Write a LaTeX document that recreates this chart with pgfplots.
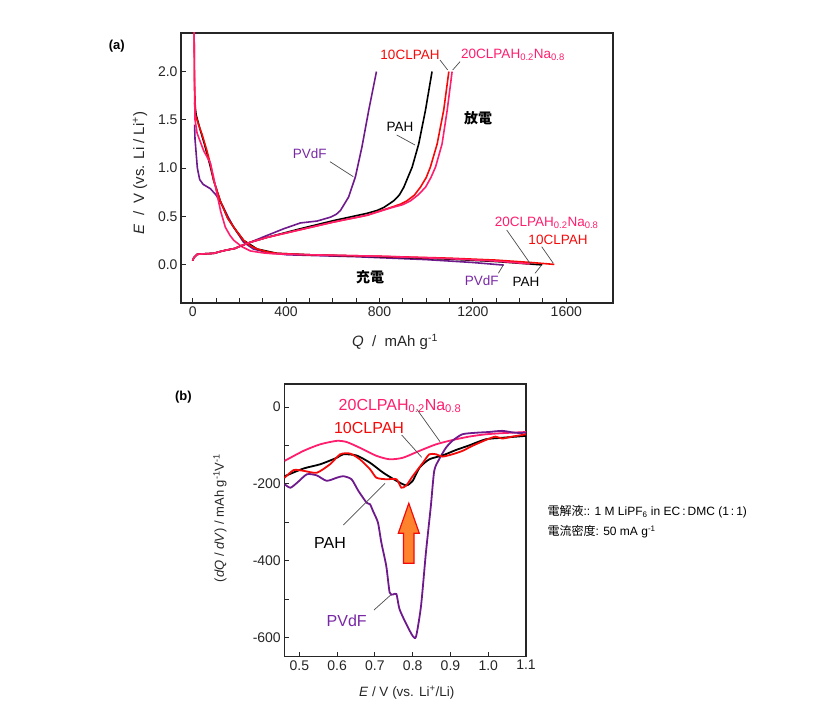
\documentclass[border=0pt]{standalone}
\usepackage{pgfplots}
\pgfplotsset{compat=1.18}
\usepackage{fontspec}
\setmainfont{Liberation Sans}
\newfontfamily\jp{Noto Sans CJK JP}
\definecolor{cpv}{RGB}{110,25,140}
\definecolor{cpvt}{RGB}{120,40,165}
\definecolor{cred}{RGB}{245,10,10}
\definecolor{cpink}{RGB}{255,30,110}
\definecolor{corange}{RGB}{255,130,45}
\begin{document}
\begin{tikzpicture}
\path[use as bounding box] (0pt,0pt) rectangle (813pt,-714pt);
\pgfplotsset{
  myax/.style={
    scale only axis,
    axis line style={line width=1.2pt, black!85},
    tick align=inside, tick pos=left,
    major tick length=5pt, minor tick length=5pt,
    every tick/.style={black!85, line width=1pt},
    /pgf/number format/assume math mode=true,
    /pgf/number format/1000 sep={},
    ticklabel style={font=\fontsize{14}{16}\selectfont, text=black!85},
  }
}
% ---------------- panel (a) ----------------
\begin{axis}[myax, at={(181pt,-303pt)}, anchor=south west,
  width=432pt, height=270pt,
  xmin=-50, xmax=1800, ymin=-0.4, ymax=2.4,
  xtick={0,400,800,1200,1600}, minor x tick num=3,
  ytick={0,0.5,1,1.5,2},
  yticklabel style={/pgf/number format/.cd, fixed, fixed zerofill, precision=1},
  every axis plot/.append style={line width=1.6pt},
]
% lithiation
\addplot[cpv] coordinates {(8,1.45)(10,1.3)(15,1.15)(20,1.0)(30,0.88)(45,0.83)(76,0.785)(100,0.72)(130,0.6)(150,0.5)(176,0.385)(218,0.23)(260,0.16)(318,0.125)(404,0.10)(700,0.08)(1000,0.05)(1200,0.02)(1332,-0.007)};
\addplot[black] coordinates {(8,1.68)(15,1.55)(33,1.39)(50,1.25)(61,1.15)(75,1.02)(90,0.87)(118,0.66)(150,0.48)(176,0.385)(218,0.25)(276,0.16)(361,0.115)(500,0.10)(800,0.08)(1100,0.055)(1300,0.03)(1497,-0.005)};
\addplot[cred] coordinates {(6,2.45)(8,1.9)(12,1.55)(25,1.45)(40,1.35)(61,1.18)(75,1.05)(90,0.87)(118,0.66)(150,0.48)(176,0.385)(218,0.25)(250,0.19)(276,0.16)(320,0.13)(361,0.115)(500,0.10)(800,0.085)(1100,0.065)(1300,0.045)(1450,0.02)(1549,0.0)};
\addplot[cpink] coordinates {(6,2.45)(8,1.8)(10,1.5)(19,1.36)(47,1.18)(76,1.05)(90,0.9)(104,0.73)(120,0.55)(140,0.385)(160,0.3)(176,0.25)(210,0.185)(247,0.14)(300,0.12)(347,0.11)(500,0.10)(800,0.085)(1100,0.06)(1300,0.035)(1446,0.005)};
% delithiation
\addplot[cpv] coordinates {(0,0.04)(5,0.07)(19,0.105)(50,0.11)(90,0.115)(120,0.135)(147,0.15)(180,0.165)(204,0.19)(247,0.23)(318,0.30)(390,0.37)(461,0.43)(533,0.45)(590,0.49)(615,0.52)(633,0.56)(668,0.70)(697,0.91)(725,1.22)(754,1.60)(787,2.0)};
\addplot[black] coordinates {(0,0.04)(5,0.07)(19,0.105)(50,0.11)(90,0.115)(120,0.135)(147,0.15)(180,0.165)(204,0.19)(247,0.23)(318,0.28)(461,0.37)(604,0.455)(747,0.53)(790,0.56)(818,0.59)(861,0.66)(885,0.72)(904,0.80)(940,1.01)(968,1.25)(997,1.60)(1025,2.0)};
\addplot[cred] coordinates {(0,0.04)(5,0.07)(19,0.105)(50,0.11)(90,0.115)(120,0.135)(147,0.15)(180,0.165)(204,0.19)(247,0.23)(318,0.28)(461,0.36)(604,0.44)(747,0.51)(847,0.59)(890,0.625)(918,0.66)(950,0.72)(975,0.80)(1000,0.90)(1018,1.01)(1047,1.25)(1075,1.60)(1097,2.0)};
\addplot[cpink] coordinates {(0,0.04)(5,0.07)(19,0.105)(50,0.11)(90,0.115)(120,0.135)(147,0.15)(180,0.165)(204,0.19)(247,0.23)(318,0.28)(461,0.36)(604,0.44)(747,0.51)(847,0.585)(900,0.62)(933,0.66)(965,0.72)(997,0.80)(1020,0.90)(1040,1.01)(1068,1.25)(1090,1.60)(1111,2.0)};
\end{axis}
% ---------------- panel (b) ----------------
\begin{axis}[myax, at={(284.3pt,-656.7pt)}, anchor=south west,
  width=241.7pt, height=272.7pt,
  xmin=0.46, xmax=1.1, ymin=-650, ymax=60,
  xtick={0.5,0.6,0.7,0.8,0.9,1.0,1.1},
  xticklabels={0.5,0.6,0.7,0.8,0.9,1.0,1.1},
  ytick={-600,-400,-200,0},
  minor ytick={-500,-300,-100},
  every axis plot/.append style={line width=1.8pt, smooth, tension=0.4},
]
\addplot[cpink] coordinates {(0.461,-140)(0.511,-114)(0.555,-97)(0.599,-88)(0.625,-91)(0.660,-106)(0.704,-127)(0.739,-136)(0.774,-132)(0.818,-114)(0.862,-97)(0.905,-86)(0.949,-77)(0.993,-71)(1.037,-68)(1.1,-65)};
\addplot[cpv] coordinates {(0.461,-201)(0.476,-210)(0.494,-197)(0.520,-175)(0.546,-178)(0.572,-192)(0.599,-184)(0.616,-180)(0.638,-188)(0.656,-218)(0.678,-249)(0.687,-253)(0.695,-271)(0.708,-301)(0.717,-353)(0.730,-414)(0.739,-483)(0.748,-488)(0.757,-487)(0.765,-526)(0.783,-565)(0.800,-596)(0.809,-597)(0.822,-518)(0.835,-379)(0.848,-258)(0.857,-166)(0.870,-136)(0.888,-106)(0.905,-88)(0.931,-71)(0.966,-67)(1.001,-65)(1.037,-62)(1.072,-67)(1.1,-67)};
\addplot[black] coordinates {(0.461,-180)(0.511,-160)(0.555,-149)(0.599,-132)(0.616,-123)(0.651,-126)(0.687,-145)(0.722,-171)(0.757,-192)(0.783,-204)(0.800,-192)(0.818,-158)(0.844,-136)(0.879,-126)(0.914,-112)(0.949,-100)(0.993,-84)(1.037,-80)(1.1,-75)};
\addplot[cred] coordinates {(0.461,-184)(0.485,-164)(0.511,-166)(0.546,-171)(0.581,-149)(0.608,-123)(0.634,-121)(0.660,-136)(0.687,-162)(0.704,-184)(0.730,-188)(0.757,-188)(0.770,-210)(0.783,-204)(0.800,-180)(0.827,-145)(0.844,-123)(0.862,-123)(0.879,-129)(0.905,-123)(0.932,-114)(0.958,-101)(0.993,-86)(1.019,-77)(1.037,-82)(1.063,-77)(1.1,-71)};
\end{axis}
% ---------------- annotations ----------------
\begin{scope}[x=1pt,y=-1pt]
% panel (a)
\node[font=\bfseries\fontsize{13}{15}\selectfont] at (116.7,46) {(a)};
\node[rotate=90, font=\fontsize{15}{17}\selectfont, text=black!85] at (140,173) {\textit{E}\ \ /\ \ V (vs. Li / Li\textsuperscript{+})};
\node[font=\fontsize{15}{17}\selectfont, text=black!85] at (395,341.7) {\textit{Q}\ \ /\ \ mAh g\textsuperscript{-1}};
\begin{scope}[font=\fontsize{13.5}{15}\selectfont]
\node[text=cred] at (410,55) {10CLPAH};
\node[text=cpink] at (513,55) {20CLPAH\textsubscript{0.2}Na\textsubscript{0.8}};
\node[text=black] at (400,127) {PAH};
\node[text=cpvt] at (309.7,154) {PVdF};
\node[text=cpink] at (546.7,222.5) {20CLPAH\textsubscript{0.2}Na\textsubscript{0.8}};
\node[text=cred] at (558,240) {10CLPAH};
\node[text=cpvt] at (481.7,281) {PVdF};
\node[text=black] at (526,281.7) {PAH};
\end{scope}
\node[font=\jp\bfseries\fontsize{14}{16}\selectfont] at (478,118) {放電};
\node[font=\jp\bfseries\fontsize{14}{16}\selectfont] at (370,277) {充電};
\begin{scope}[draw=black!70, line width=0.7pt]
\draw (440,60) -- (447.7,70);
\draw (460,61.7) -- (452.7,70);
\draw (396.7,135) -- (415,145);
\draw (330,161.7) -- (353.3,176.7);
\draw (506.7,230) -- (530,263.3);
\draw (541.7,246.7) -- (553.3,263.3);
\draw (498.3,273.3) -- (503.3,265);
\draw (535,273.3) -- (541.7,265);
\end{scope}
% panel (b)
\node[font=\bfseries\fontsize{13}{15}\selectfont] at (183.3,396.7) {(b)};
\node[rotate=90, font=\fontsize{13}{15}\selectfont, text=black!85] at (220,518) {(\textit{dQ} / \textit{dV}) / mAh g\textsuperscript{-1}V\textsuperscript{-1}};
\node[font=\fontsize{13.5}{15}\selectfont, text=black!85] at (406.7,693) {\textit{E} / V (vs. Li\textsuperscript{+}/Li)};
\begin{scope}[font=\fontsize{16}{18}\selectfont]
\node[text=cpink] at (400,406) {20CLPAH\textsubscript{0.2}Na\textsubscript{0.8}};
\node[text=cred] at (369,427.5) {10CLPAH};
\node[text=black] at (330,542.5) {PAH};
\node[text=cpvt] at (346.7,621) {PVdF};
\end{scope}
\begin{scope}[draw=black!70, line width=0.7pt]
\draw (416.7,409) -- (440,441.7);
\draw (401.7,435) -- (421.7,457.3);
\draw (343.3,525) -- (385,483.3);
\draw (374,610) -- (390.7,595);
\end{scope}
\draw[cred, line width=1.2pt, fill=corange, line join=miter]
  (408.8,503.3) -- (419.3,533.3) -- (414,533.3) -- (414,563.3) -- (403.5,563.3) -- (403.5,533.3) -- (398.3,533.3) -- cycle;
% right text
\begin{scope}[font=\fontsize{12}{14}\selectfont]
\node[anchor=west] at (544,511.7) {{\jp 電解液}:: 1 M LiPF\textsubscript{6} in EC\,:\,DMC (1\,:\,1)};
\node[anchor=west] at (544,531.7) {{\jp 電流密度}: 50 mA g\textsuperscript{-1}};
\end{scope}
\end{scope}
\end{tikzpicture}
\end{document}
